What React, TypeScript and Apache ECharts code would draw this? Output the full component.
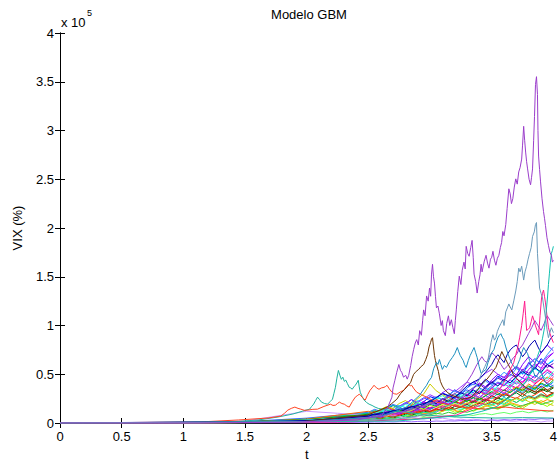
import React, { useEffect, useRef } from "react";
import * as echarts from "echarts";

// ---------- axis ticks ----------
const xTickValues = [0, 0.5, 1, 1.5, 2, 2.5, 3, 3.5, 4];
const yTickValues = [0, 0.5, 1, 1.5, 2, 2.5, 3, 3.5, 4];
const yExponent = "5"; // values are shown as x 10^5

// ---------- prominent paths: [t, VIX in units of 1e5] ----------
const purpleMain: number[][] = [
  [0, 0], [1.124, 0], [1.928, 0.01], [2.41, 0.031], [2.61, 0.081], [2.66, 0.17], [2.691, 0.265], [2.7, 0.36],
  [2.715, 0.438], [2.73, 0.52], [2.747, 0.6], [2.76, 0.54], [2.771, 0.519], [2.785, 0.47], [2.803, 0.489],
  [2.815, 0.45], [2.827, 0.489], [2.843, 0.59], [2.855, 0.68], [2.867, 0.753], [2.88, 0.82], [2.892, 0.855],
  [2.905, 0.8], [2.916, 0.947], [2.93, 0.9], [2.94, 1.05], [2.948, 1.16], [2.96, 1.1], [2.972, 1.303],
  [2.985, 1.25], [2.996, 1.384], [3.005, 1.3], [3.012, 1.527], [3.02, 1.628], [3.028, 1.5], [3.036, 1.435],
  [3.044, 1.3], [3.052, 1.181], [3.064, 1.2], [3.076, 1.12], [3.09, 1.0], [3.1, 1.05], [3.108, 0.947],
  [3.124, 0.896], [3.135, 1.02], [3.149, 1.099], [3.16, 1.0], [3.173, 1.059], [3.185, 0.98], [3.197, 0.916],
  [3.205, 1.05], [3.213, 1.16], [3.225, 1.35], [3.237, 1.506], [3.25, 1.42], [3.261, 1.567], [3.275, 1.65],
  [3.285, 1.58], [3.293, 1.812], [3.305, 1.74], [3.317, 1.71], [3.33, 1.8], [3.341, 1.873], [3.35, 1.7],
  [3.357, 1.527], [3.37, 1.45], [3.382, 1.333], [3.395, 1.45], [3.405, 1.52], [3.414, 1.628], [3.422, 1.55],
  [3.43, 1.6], [3.44, 1.66], [3.454, 1.72], [3.466, 1.64], [3.478, 1.588], [3.49, 1.68], [3.5, 1.7],
  [3.51, 1.761], [3.522, 1.67], [3.534, 1.618], [3.546, 1.69], [3.558, 1.72], [3.57, 1.8], [3.58, 1.85],
  [3.59, 1.964], [3.6, 1.92], [3.614, 2.036], [3.625, 2.2], [3.639, 2.402], [3.65, 2.35], [3.66, 2.25],
  [3.671, 2.3], [3.683, 2.42], [3.695, 2.504], [3.707, 2.45], [3.719, 2.575], [3.73, 2.62], [3.743, 2.707],
  [3.75, 2.85], [3.759, 3.043], [3.767, 2.9], [3.775, 2.779], [3.783, 2.68], [3.791, 2.606], [3.803, 2.5],
  [3.815, 2.443], [3.823, 2.52], [3.831, 2.606], [3.84, 2.9], [3.847, 3.145], [3.855, 3.471], [3.863, 3.552],
  [3.871, 3.369], [3.875, 3.0], [3.88, 2.738], [3.888, 2.6], [3.896, 2.473], [3.908, 2.3], [3.92, 2.168],
  [3.928, 2.1], [3.936, 2.025], [3.948, 1.9], [3.96, 1.822], [3.972, 1.75], [3.984, 1.72], [3.992, 1.65], [4, 1.669],
];
const steelBlue: number[][] = [
  [0, 0], [1.928, 0.01], [2.731, 0.041], [2.9, 0.07], [3.052, 0.112], [3.15, 0.18], [3.253, 0.265],
  [3.3, 0.31], [3.333, 0.346], [3.373, 0.387], [3.4, 0.45], [3.422, 0.519], [3.445, 0.58], [3.47, 0.651],
  [3.48, 0.72], [3.494, 0.824], [3.51, 0.906], [3.522, 0.85], [3.534, 0.875], [3.546, 0.94], [3.558, 0.977],
  [3.574, 1.02], [3.59, 1.059], [3.6, 1.0], [3.614, 1.14], [3.627, 1.18], [3.639, 1.221], [3.65, 1.19],
  [3.663, 1.16], [3.68, 1.26], [3.695, 1.354], [3.707, 1.45], [3.719, 1.588], [3.73, 1.55], [3.743, 1.608],
  [3.759, 1.466], [3.77, 1.55], [3.783, 1.608], [3.795, 1.68], [3.807, 1.74], [3.82, 1.8], [3.831, 1.913],
  [3.845, 1.96], [3.855, 2.036], [3.863, 2.056], [3.871, 1.74], [3.88, 1.55], [3.888, 1.384], [3.9, 1.33],
  [3.912, 1.282], [3.924, 1.18], [3.936, 1.079], [3.948, 0.96], [3.96, 0.875], [3.972, 0.93], [3.984, 0.977], [4, 0.926],
];
const cerulean: number[][] = [
  [0, 0], [1.928, 0.01], [2.57, 0.061], [2.7, 0.11], [2.811, 0.163], [2.86, 0.22], [2.916, 0.285],
  [2.945, 0.34], [2.972, 0.387], [2.99, 0.43], [3.012, 0.468], [3.03, 0.56], [3.052, 0.621], [3.064, 0.6],
  [3.076, 0.651], [3.088, 0.6], [3.1, 0.55], [3.116, 0.59], [3.133, 0.57], [3.157, 0.63], [3.181, 0.672],
  [3.2, 0.71], [3.221, 0.774], [3.233, 0.73], [3.245, 0.692], [3.269, 0.641], [3.28, 0.6], [3.293, 0.57],
  [3.31, 0.64], [3.325, 0.692], [3.34, 0.73], [3.357, 0.774], [3.37, 0.72], [3.382, 0.672], [3.398, 0.58],
  [3.414, 0.509], [3.434, 0.53], [3.454, 0.55], [3.47, 0.62], [3.486, 0.672], [3.5, 0.72], [3.518, 0.753],
  [3.534, 0.82], [3.55, 0.875], [3.562, 0.9], [3.574, 0.916], [3.586, 0.88], [3.598, 0.855], [3.614, 0.78],
  [3.631, 0.712], [3.647, 0.66], [3.663, 0.611], [3.68, 0.58], [3.695, 0.55], [3.71, 0.6], [3.727, 0.651],
  [3.743, 0.72], [3.759, 0.774], [3.775, 0.74], [3.791, 0.712], [3.807, 0.64], [3.823, 0.57], [3.84, 0.52],
  [3.855, 0.468], [3.875, 0.5], [3.896, 0.55], [3.916, 0.47], [3.936, 0.417], [3.956, 0.39], [3.976, 0.366], [4, 0.387],
];
const brownPath: number[][] = [
  [0, 0], [1.928, 0.01], [2.49, 0.081], [2.57, 0.12], [2.651, 0.163], [2.69, 0.2], [2.731, 0.244],
  [2.76, 0.3], [2.795, 0.346], [2.82, 0.38], [2.843, 0.417], [2.855, 0.46], [2.867, 0.499], [2.888, 0.53],
  [2.908, 0.55], [2.928, 0.58], [2.948, 0.6], [2.965, 0.65], [2.98, 0.702], [2.992, 0.78], [3.004, 0.824],
  [3.012, 0.86], [3.02, 0.875], [3.028, 0.78], [3.036, 0.692], [3.044, 0.64], [3.052, 0.6], [3.068, 0.529],
  [3.076, 0.47], [3.084, 0.427], [3.1, 0.38], [3.116, 0.346], [3.145, 0.31], [3.173, 0.285], [3.213, 0.27],
  [3.253, 0.244], [3.29, 0.25], [3.333, 0.265], [3.36, 0.3], [3.39, 0.346], [3.414, 0.39], [3.438, 0.427],
  [3.462, 0.45], [3.486, 0.489], [3.51, 0.53], [3.534, 0.57], [3.558, 0.65], [3.582, 0.733], [3.598, 0.69],
  [3.614, 0.651], [3.634, 0.6], [3.655, 0.55], [3.675, 0.5], [3.695, 0.468], [3.735, 0.41], [3.775, 0.366],
  [3.815, 0.34], [3.855, 0.316], [3.895, 0.33], [3.936, 0.346], [3.968, 0.32], [4, 0.305],
];
const tealEarly: number[][] = [
  [0, 0], [1.365, 0.01], [1.606, 0.031], [1.767, 0.061], [1.888, 0.092], [1.968, 0.122], [2.024, 0.142],
  [2.04, 0.17], [2.056, 0.193], [2.072, 0.23], [2.088, 0.265], [2.104, 0.24], [2.12, 0.214], [2.145, 0.2],
  [2.169, 0.193], [2.19, 0.22], [2.209, 0.244], [2.22, 0.3], [2.233, 0.366], [2.245, 0.46], [2.257, 0.539],
  [2.269, 0.49], [2.281, 0.448], [2.293, 0.47], [2.305, 0.427], [2.317, 0.44], [2.329, 0.407], [2.345, 0.366],
  [2.357, 0.36], [2.369, 0.346], [2.382, 0.37], [2.394, 0.387], [2.406, 0.41], [2.418, 0.438], [2.426, 0.37],
  [2.434, 0.316], [2.45, 0.27], [2.466, 0.234], [2.486, 0.21], [2.506, 0.193], [2.53, 0.18], [2.554, 0.163],
  [2.58, 0.15], [2.61, 0.142], [2.65, 0.13], [2.691, 0.122], [2.75, 0.118], [2.811, 0.112], [2.9, 0.095],
  [2.972, 0.081], [3.1, 0.07], [3.213, 0.061], [3.38, 0.055], [3.534, 0.051], [3.75, 0.055], [4, 0.051],
];
const orangeRed: number[][] = [
  [0, 0], [1.124, 0.01], [1.446, 0.031], [1.687, 0.051], [1.791, 0.071], [1.82, 0.1], [1.847, 0.132],
  [1.875, 0.15], [1.904, 0.163], [1.93, 0.15], [1.952, 0.142], [1.98, 0.13], [2.008, 0.132], [2.05, 0.14],
  [2.088, 0.142], [2.14, 0.17], [2.193, 0.193], [2.213, 0.18], [2.233, 0.183], [2.25, 0.2], [2.265, 0.214],
  [2.285, 0.2], [2.305, 0.193], [2.325, 0.175], [2.345, 0.163], [2.37, 0.22], [2.394, 0.265], [2.41, 0.28],
  [2.426, 0.295], [2.438, 0.28], [2.45, 0.265], [2.462, 0.25], [2.474, 0.234], [2.494, 0.29], [2.514, 0.336],
  [2.53, 0.36], [2.546, 0.387], [2.566, 0.36], [2.586, 0.346], [2.606, 0.36], [2.627, 0.366], [2.64, 0.375],
  [2.651, 0.387], [2.67, 0.35], [2.691, 0.316], [2.71, 0.3], [2.731, 0.295], [2.76, 0.32], [2.787, 0.336],
  [2.807, 0.37], [2.827, 0.397], [2.84, 0.38], [2.851, 0.387], [2.87, 0.35], [2.892, 0.316], [2.93, 0.29],
  [2.972, 0.265], [3.01, 0.24], [3.052, 0.214], [3.11, 0.2], [3.173, 0.183], [3.23, 0.17], [3.293, 0.163],
  [3.37, 0.15], [3.454, 0.142], [3.53, 0.155], [3.614, 0.163], [3.7, 0.15], [3.775, 0.142], [3.89, 0.13], [4, 0.122],
];
const hotPink: number[][] = [
  [0, 0], [2.329, 0.01], [2.892, 0.041], [3.213, 0.081], [3.373, 0.163], [3.43, 0.2], [3.494, 0.265],
  [3.534, 0.31], [3.574, 0.366], [3.6, 0.42], [3.631, 0.489], [3.655, 0.56], [3.679, 0.621], [3.695, 0.7],
  [3.711, 0.774], [3.727, 0.88], [3.743, 1.0], [3.755, 1.12], [3.767, 1.25], [3.775, 1.1], [3.783, 0.95],
  [3.795, 0.96], [3.807, 0.977], [3.82, 1.04], [3.831, 1.099], [3.843, 1.05], [3.855, 0.997], [3.868, 0.95],
  [3.88, 0.906], [3.892, 1.1], [3.904, 1.282], [3.912, 1.33], [3.92, 1.364], [3.928, 1.3], [3.936, 1.232],
  [3.948, 1.1], [3.96, 0.977], [3.972, 0.92], [3.984, 0.875], [4, 0.824],
];
const tealRight: number[][] = [
  [0, 0], [2.731, 0.02], [3.0, 0.05], [3.293, 0.081], [3.42, 0.12], [3.534, 0.163], [3.62, 0.24],
  [3.695, 0.316], [3.735, 0.37], [3.775, 0.417], [3.81, 0.5], [3.839, 0.57], [3.87, 0.68], [3.896, 0.774],
  [3.912, 0.87], [3.928, 0.977], [3.94, 1.12], [3.952, 1.282], [3.96, 1.42], [3.968, 1.537], [3.976, 1.65],
  [3.984, 1.74], [3.992, 1.77], [4, 1.812],
];
const purpleSecond: number[][] = [
  [0, 0], [2.0, 0.01], [2.5, 0.05], [2.8, 0.12], [3.0, 0.2], [3.1, 0.24], [3.2, 0.3], [3.25, 0.34],
  [3.3, 0.42], [3.34, 0.5], [3.38, 0.6], [3.42, 0.68], [3.44, 0.64], [3.46, 0.62], [3.48, 0.68], [3.5, 0.72],
  [3.52, 0.7], [3.55, 0.65], [3.575, 0.6], [3.6, 0.55], [3.625, 0.58], [3.65, 0.62], [3.675, 0.67], [3.7, 0.7],
  [3.725, 0.76], [3.75, 0.8], [3.775, 0.86], [3.8, 0.92], [3.825, 0.98], [3.85, 1.05], [3.875, 1.0],
  [3.9, 0.95], [3.925, 1.02], [3.95, 1.1], [3.975, 1.05], [4, 1.0],
];
const darkBlue: number[][] = [
  [0, 0], [2, 0.02], [2.5, 0.08], [2.65, 0.11], [2.8, 0.15], [2.9, 0.18], [3.0, 0.22], [3.05, 0.26],
  [3.1, 0.3], [3.15, 0.28], [3.2, 0.26], [3.25, 0.32], [3.3, 0.38], [3.35, 0.42], [3.4, 0.45], [3.45, 0.52],
  [3.5, 0.6], [3.525, 0.66], [3.55, 0.7], [3.575, 0.66], [3.6, 0.62], [3.625, 0.7], [3.65, 0.75], [3.675, 0.78],
  [3.7, 0.8], [3.725, 0.74], [3.75, 0.68], [3.775, 0.72], [3.8, 0.78], [3.825, 0.82], [3.85, 0.85],
  [3.875, 0.78], [3.9, 0.72], [3.925, 0.76], [3.95, 0.8], [3.975, 0.86], [4, 0.9],
];

// ---------- the dense bundle of low paths, on a shared time grid ----------
const bulkT = [0, 1, 1.5, 2, 2.25, 2.5, 2.55, 2.6, 2.65, 2.7, 2.75, 2.8, 2.85, 2.9, 2.95, 3, 3.05, 3.1,
  3.15, 3.2, 3.25, 3.3, 3.35, 3.4, 3.45, 3.5, 3.55, 3.6, 3.65, 3.7, 3.75, 3.8, 3.85, 3.9, 3.95, 4];
const bulkColors = ["#0000ff", "#8000ff", "#00cc00", "#ff00ff", "#99ff00", "#ff3300", "#00ffff",
  "#cccc00", "#006600", "#ff66cc", "#3366ff", "#9933ff", "#00cc99", "#ff9900", "#6600cc", "#33cc33",
  "#cc00cc", "#0099ff", "#66ff66", "#993300", "#ff0066", "#00ff99", "#cc99ff", "#9966ff",
  "#ff6600", "#3399ff", "#00b000", "#ff33cc", "#6666ff", "#cc3300", "#33ffcc", "#9900ff", "#ccff33", "#000099"];
const bulkValues: number[][] = [
  [0, 0.002, 0.01, 0.03, 0.06, 0.10, 0.12, 0.09, 0.14, 0.18, 0.15, 0.20, 0.24, 0.19, 0.22, 0.27, 0.25, 0.31, 0.28, 0.34, 0.30, 0.36, 0.42, 0.38, 0.45, 0.40, 0.48, 0.44, 0.52, 0.58, 0.50, 0.62, 0.55, 0.66, 0.60, 0.64],
  [0, 0.001, 0.008, 0.02, 0.05, 0.08, 0.07, 0.11, 0.09, 0.13, 0.16, 0.12, 0.15, 0.19, 0.22, 0.18, 0.24, 0.21, 0.27, 0.25, 0.32, 0.29, 0.35, 0.41, 0.37, 0.44, 0.50, 0.46, 0.55, 0.49, 0.60, 0.68, 0.62, 0.72, 0.80, 0.74],
  [0, 0.002, 0.01, 0.025, 0.04, 0.06, 0.05, 0.07, 0.09, 0.08, 0.11, 0.10, 0.13, 0.12, 0.15, 0.14, 0.17, 0.16, 0.19, 0.18, 0.21, 0.24, 0.22, 0.26, 0.23, 0.28, 0.25, 0.30, 0.27, 0.32, 0.35, 0.31, 0.37, 0.34, 0.39, 0.36],
  [0, 0.001, 0.006, 0.02, 0.04, 0.07, 0.09, 0.08, 0.10, 0.12, 0.11, 0.14, 0.13, 0.16, 0.18, 0.15, 0.19, 0.22, 0.20, 0.25, 0.23, 0.27, 0.30, 0.26, 0.32, 0.36, 0.33, 0.40, 0.37, 0.45, 0.42, 0.50, 0.46, 0.55, 0.60, 0.57],
  [0, 0.001, 0.005, 0.015, 0.03, 0.05, 0.04, 0.065, 0.05, 0.07, 0.09, 0.075, 0.07, 0.1, 0.085, 0.11, 0.09, 0.12, 0.14, 0.11, 0.13, 0.16, 0.12, 0.15, 0.18, 0.16, 0.14, 0.17, 0.2, 0.18, 0.15, 0.19, 0.22, 0.2, 0.17, 0.21],
  [0, 0.003, 0.012, 0.04, 0.07, 0.09, 0.12, 0.10, 0.08, 0.11, 0.14, 0.12, 0.16, 0.13, 0.10, 0.12, 0.15, 0.18, 0.14, 0.17, 0.21, 0.19, 0.16, 0.20, 0.24, 0.22, 0.19, 0.23, 0.27, 0.25, 0.30, 0.26, 0.29, 0.33, 0.28, 0.31],
  [0, 0.002, 0.009, 0.03, 0.05, 0.08, 0.10, 0.13, 0.11, 0.15, 0.18, 0.16, 0.20, 0.23, 0.19, 0.22, 0.26, 0.24, 0.21, 0.25, 0.29, 0.27, 0.33, 0.30, 0.36, 0.32, 0.38, 0.43, 0.39, 0.47, 0.52, 0.48, 0.56, 0.51, 0.60, 0.65],
  [0, 0.002, 0.01, 0.03, 0.06, 0.09, 0.11, 0.14, 0.17, 0.15, 0.20, 0.23, 0.19, 0.25, 0.30, 0.40, 0.33, 0.29, 0.26, 0.30, 0.27, 0.24, 0.28, 0.25, 0.22, 0.26, 0.23, 0.20, 0.24, 0.21, 0.25, 0.22, 0.19, 0.23, 0.20, 0.18],
  [0, 0.001, 0.004, 0.012, 0.02, 0.04, 0.05, 0.04, 0.06, 0.05, 0.07, 0.09, 0.08, 0.10, 0.12, 0.11, 0.13, 0.15, 0.14, 0.17, 0.16, 0.19, 0.22, 0.20, 0.24, 0.21, 0.26, 0.23, 0.28, 0.31, 0.27, 0.33, 0.30, 0.35, 0.32, 0.36],
  [0, 0.002, 0.007, 0.02, 0.03, 0.05, 0.06, 0.08, 0.07, 0.09, 0.11, 0.10, 0.12, 0.14, 0.13, 0.16, 0.18, 0.17, 0.20, 0.22, 0.19, 0.23, 0.26, 0.24, 0.28, 0.31, 0.29, 0.34, 0.38, 0.35, 0.41, 0.45, 0.40, 0.47, 0.43, 0.50],
  [0, 0.003, 0.015, 0.05, 0.08, 0.11, 0.14, 0.12, 0.16, 0.19, 0.17, 0.21, 0.18, 0.22, 0.26, 0.23, 0.20, 0.24, 0.28, 0.25, 0.30, 0.34, 0.31, 0.36, 0.33, 0.38, 0.42, 0.39, 0.44, 0.40, 0.46, 0.43, 0.49, 0.45, 0.52, 0.48],
  [0, 0.002, 0.01, 0.03, 0.05, 0.07, 0.09, 0.12, 0.15, 0.13, 0.17, 0.20, 0.24, 0.21, 0.25, 0.29, 0.26, 0.31, 0.35, 0.32, 0.37, 0.42, 0.39, 0.46, 0.51, 0.55, 0.50, 0.47, 0.52, 0.58, 0.54, 0.61, 0.66, 0.60, 0.68, 0.72],
  [0, 0.002, 0.012, 0.04, 0.07, 0.10, 0.13, 0.11, 0.15, 0.18, 0.16, 0.14, 0.17, 0.20, 0.18, 0.21, 0.19, 0.16, 0.18, 0.22, 0.20, 0.17, 0.21, 0.24, 0.22, 0.19, 0.23, 0.26, 0.24, 0.21, 0.25, 0.28, 0.26, 0.30, 0.27, 0.29],
  [0, 0.001, 0.005, 0.015, 0.03, 0.04, 0.06, 0.05, 0.07, 0.09, 0.08, 0.10, 0.12, 0.11, 0.09, 0.11, 0.13, 0.12, 0.15, 0.13, 0.11, 0.14, 0.16, 0.14, 0.17, 0.19, 0.16, 0.18, 0.21, 0.19, 0.17, 0.20, 0.23, 0.21, 0.24, 0.22],
  [0, 0.002, 0.008, 0.025, 0.05, 0.07, 0.09, 0.08, 0.11, 0.13, 0.12, 0.15, 0.18, 0.16, 0.19, 0.22, 0.20, 0.24, 0.27, 0.30, 0.26, 0.32, 0.36, 0.40, 0.35, 0.42, 0.46, 0.43, 0.50, 0.47, 0.55, 0.51, 0.58, 0.63, 0.57, 0.61],
  [0, 0.001, 0.004, 0.01, 0.02, 0.03, 0.045, 0.04, 0.05, 0.04, 0.06, 0.07, 0.065, 0.08, 0.07, 0.085, 0.1, 0.09, 0.11, 0.095, 0.12, 0.11, 0.13, 0.15, 0.14, 0.16, 0.15, 0.17, 0.19, 0.16, 0.18, 0.2, 0.22, 0.19, 0.21, 0.23],
  [0, 0.002, 0.009, 0.03, 0.06, 0.08, 0.1, 0.09, 0.12, 0.14, 0.13, 0.16, 0.14, 0.18, 0.21, 0.19, 0.23, 0.2, 0.24, 0.27, 0.25, 0.29, 0.26, 0.31, 0.34, 0.3, 0.36, 0.33, 0.39, 0.36, 0.42, 0.47, 0.43, 0.49, 0.54, 0.5],
  [0, 0.002, 0.01, 0.03, 0.05, 0.06, 0.08, 0.07, 0.09, 0.11, 0.1, 0.12, 0.15, 0.13, 0.16, 0.14, 0.17, 0.2, 0.18, 0.21, 0.19, 0.23, 0.26, 0.24, 0.28, 0.25, 0.3, 0.27, 0.32, 0.35, 0.31, 0.37, 0.34, 0.4, 0.37, 0.42],
  [0, 0.001, 0.003, 0.008, 0.015, 0.025, 0.032, 0.027, 0.036, 0.042, 0.035, 0.047, 0.052, 0.044, 0.058, 0.063, 0.055, 0.068, 0.074, 0.064, 0.079, 0.086, 0.077, 0.091, 0.097, 0.085, 0.099, 0.108, 0.094, 0.112, 0.12, 0.105, 0.118, 0.127, 0.113, 0.13],
  [0, 0.002, 0.01, 0.03, 0.05, 0.07, 0.06, 0.08, 0.1, 0.09, 0.11, 0.13, 0.12, 0.14, 0.17, 0.15, 0.18, 0.16, 0.19, 0.22, 0.2, 0.24, 0.21, 0.26, 0.23, 0.28, 0.25, 0.3, 0.27, 0.33, 0.3, 0.35, 0.32, 0.38, 0.34, 0.37],
  [0, 0.001, 0.006, 0.018, 0.03, 0.05, 0.07, 0.06, 0.08, 0.07, 0.09, 0.11, 0.1, 0.12, 0.14, 0.12, 0.15, 0.13, 0.16, 0.19, 0.17, 0.2, 0.23, 0.21, 0.25, 0.22, 0.27, 0.31, 0.28, 0.33, 0.37, 0.34, 0.4, 0.45, 0.41, 0.47],
  [0, 0.001, 0.005, 0.012, 0.025, 0.04, 0.05, 0.06, 0.05, 0.07, 0.06, 0.08, 0.1, 0.09, 0.11, 0.1, 0.12, 0.14, 0.13, 0.15, 0.14, 0.16, 0.18, 0.17, 0.2, 0.18, 0.21, 0.19, 0.23, 0.25, 0.22, 0.26, 0.24, 0.28, 0.26, 0.3],
  [0, 0.003, 0.02, 0.12, 0.1, 0.08, 0.09, 0.07, 0.06, 0.08, 0.07, 0.05, 0.06, 0.05, 0.04, 0.05, 0.04, 0.05, 0.04, 0.03, 0.04, 0.03, 0.04, 0.03, 0.02, 0.03, 0.02, 0.03, 0.02, 0.02, 0.03, 0.02, 0.02, 0.01, 0.02, 0.02],
  [0, 0, 0.001, 0.003, 0.005, 0.008, 0.01, 0.009, 0.012, 0.01, 0.013, 0.015, 0.012, 0.016, 0.018, 0.015, 0.02, 0.018, 0.022, 0.02, 0.025, 0.022, 0.027, 0.03, 0.026, 0.032, 0.028, 0.035, 0.03, 0.038, 0.034, 0.04, 0.036, 0.044, 0.04, 0.046],
  [0, 0.002, 0.01, 0.04, 0.08, 0.12, 0.1, 0.13, 0.16, 0.14, 0.12, 0.15, 0.18, 0.21, 0.17, 0.2, 0.24, 0.22, 0.26, 0.23, 0.2, 0.25, 0.28, 0.32, 0.29, 0.35, 0.31, 0.28, 0.33, 0.37, 0.34, 0.4, 0.36, 0.42, 0.47, 0.44],
  [0, 0.001, 0.006, 0.02, 0.04, 0.06, 0.08, 0.1, 0.09, 0.12, 0.15, 0.13, 0.17, 0.2, 0.18, 0.23, 0.27, 0.24, 0.29, 0.33, 0.3, 0.36, 0.4, 0.37, 0.43, 0.39, 0.46, 0.52, 0.48, 0.56, 0.51, 0.59, 0.66, 0.61, 0.7, 0.78],
  [0, 0.002, 0.012, 0.035, 0.06, 0.09, 0.08, 0.11, 0.1, 0.13, 0.12, 0.15, 0.14, 0.17, 0.15, 0.19, 0.17, 0.2, 0.23, 0.21, 0.25, 0.22, 0.26, 0.24, 0.28, 0.32, 0.29, 0.34, 0.31, 0.36, 0.33, 0.38, 0.35, 0.41, 0.38, 0.44],
  [0, 0.001, 0.007, 0.02, 0.04, 0.06, 0.05, 0.07, 0.09, 0.08, 0.1, 0.12, 0.11, 0.14, 0.12, 0.15, 0.18, 0.16, 0.2, 0.17, 0.22, 0.26, 0.23, 0.28, 0.25, 0.3, 0.35, 0.31, 0.37, 0.42, 0.38, 0.45, 0.41, 0.49, 0.55, 0.51],
  [0, 0.002, 0.009, 0.03, 0.05, 0.07, 0.09, 0.08, 0.1, 0.12, 0.15, 0.13, 0.16, 0.14, 0.17, 0.2, 0.18, 0.22, 0.19, 0.23, 0.27, 0.24, 0.29, 0.26, 0.31, 0.28, 0.33, 0.3, 0.35, 0.32, 0.38, 0.34, 0.39, 0.36, 0.41, 0.38],
  [0, 0.001, 0.004, 0.015, 0.03, 0.05, 0.06, 0.05, 0.07, 0.06, 0.08, 0.1, 0.09, 0.11, 0.13, 0.12, 0.14, 0.13, 0.16, 0.14, 0.17, 0.15, 0.18, 0.21, 0.19, 0.22, 0.2, 0.24, 0.22, 0.26, 0.23, 0.27, 0.25, 0.29, 0.27, 0.31],
  [0, 0.002, 0.01, 0.03, 0.05, 0.08, 0.1, 0.12, 0.14, 0.12, 0.16, 0.19, 0.17, 0.21, 0.18, 0.22, 0.25, 0.28, 0.24, 0.3, 0.27, 0.32, 0.29, 0.35, 0.31, 0.37, 0.34, 0.4, 0.36, 0.43, 0.39, 0.46, 0.42, 0.49, 0.45, 0.53],
  [0, 0.001, 0.005, 0.018, 0.035, 0.05, 0.07, 0.06, 0.08, 0.1, 0.09, 0.12, 0.11, 0.14, 0.16, 0.15, 0.18, 0.21, 0.19, 0.23, 0.26, 0.24, 0.28, 0.33, 0.3, 0.36, 0.41, 0.38, 0.45, 0.5, 0.46, 0.55, 0.61, 0.56, 0.66, 0.72],
  [0, 0.001, 0.005, 0.015, 0.03, 0.05, 0.06, 0.08, 0.07, 0.1, 0.12, 0.11, 0.13, 0.16, 0.14, 0.18, 0.16, 0.19, 0.17, 0.2, 0.18, 0.21, 0.19, 0.22, 0.2, 0.23, 0.21, 0.24, 0.22, 0.25, 0.23, 0.26, 0.24, 0.27, 0.25, 0.28],
  [0, 0.002, 0.008, 0.025, 0.045, 0.07, 0.09, 0.08, 0.1, 0.13, 0.11, 0.14, 0.17, 0.15, 0.19, 0.23, 0.2, 0.25, 0.22, 0.27, 0.31, 0.28, 0.34, 0.3, 0.37, 0.42, 0.38, 0.45, 0.41, 0.48, 0.53, 0.49, 0.57, 0.52, 0.6, 0.56],
];

const prominent: { name: string; color: string; data: number[][] }[] = [
  { name: "tealEarly", color: "#1fb39e", data: tealEarly },
  { name: "orangeRed", color: "#ff4422", data: orangeRed },
  { name: "darkBlue", color: "#0000b0", data: darkBlue },
  { name: "purpleSecond", color: "#9a3fd0", data: purpleSecond },
  { name: "brown", color: "#6b3300", data: brownPath },
  { name: "cerulean", color: "#1b8fbf", data: cerulean },
  { name: "hotPink", color: "#ff1a8c", data: hotPink },
  { name: "tealRight", color: "#10c0b0", data: tealRight },
  { name: "steelBlue", color: "#6b9bbb", data: steelBlue },
  { name: "purpleMain", color: "#9b3ecb", data: purpleMain },
];

const FONT = "Liberation Sans, Arial, Helvetica, sans-serif";
const W = 560;
const H = 466;

export default function App() {
  const ref = useRef<HTMLDivElement>(null);
  useEffect(() => {
    if (!ref.current) return;
    const chart = echarts.init(ref.current, null, { renderer: "svg", width: W, height: H });
    const series: any[] = [];
    bulkValues.forEach((vals, i) => {
      const c = bulkColors[i % bulkColors.length];
      series.push({
        type: "line",
        name: "b" + i,
        data: vals.map((v, k) => [bulkT[k], v]),
        showSymbol: false,
        lineStyle: { width: 1, color: c },
        itemStyle: { color: c },
        silent: true,
      });
    });
    prominent.forEach((p) => {
      series.push({
        type: "line",
        name: p.name,
        data: p.data,
        showSymbol: false,
        lineStyle: { width: 1, color: p.color },
        itemStyle: { color: p.color },
        silent: true,
      });
    });
    const axisCommon = {
      axisLine: { show: true, lineStyle: { color: "#000", width: 1 } },
      axisTick: { show: true, inside: true, length: 5, lineStyle: { color: "#000" } },
      splitLine: { show: false },
    };
    chart.setOption({
      animation: false,
      backgroundColor: "#ffffff",
      grid: { left: 60, top: 33, right: 2, bottom: 40, containLabel: false },
      xAxis: [
        {
          type: "value", min: 0, max: 4, interval: 0.5, position: "bottom",
          ...axisCommon,
          axisLabel: { color: "#000", fontSize: 13, fontFamily: FONT, margin: 7, showMaxLabel: true,
            formatter: (v: number) => (xTickValues.includes(v) ? String(v) : "") },
          name: "t", nameLocation: "middle", nameGap: 25,
          nameTextStyle: { color: "#000", fontSize: 13, fontFamily: FONT },
        },
        {
          type: "value", min: 0, max: 4, interval: 0.5, position: "top",
          ...axisCommon, axisLabel: { show: false },
        },
      ],
      yAxis: [
        {
          type: "value", min: 0, max: 4, interval: 0.5, position: "left",
          ...axisCommon,
          axisLabel: { color: "#000", fontSize: 13, fontFamily: FONT, margin: 6,
            formatter: (v: number) => (yTickValues.includes(v) ? String(v) : "") },
          name: "VIX (%)", nameLocation: "middle", nameGap: 36, nameRotate: 90,
          nameTextStyle: { color: "#000", fontSize: 13, fontFamily: FONT },
        },
        {
          type: "value", min: 0, max: 4, interval: 0.5, position: "right",
          ...axisCommon, axisLabel: { show: false },
        },
      ],
      graphic: [
        {
          type: "text", x: 309, y: 14,
          style: { text: "Modelo GBM", fill: "#000", font: `13px ${FONT}`, textAlign: "center", textVerticalAlign: "middle" },
        },
        {
          type: "text", x: 61, y: 22,
          style: { text: "x 10", fill: "#000", font: `13px ${FONT}`, textAlign: "left", textVerticalAlign: "middle" },
        },
        {
          type: "text", x: 87, y: 13,
          style: { text: yExponent, fill: "#000", font: `9px ${FONT}`, textAlign: "left", textVerticalAlign: "middle" },
        },
      ],
      series,
    });
    return () => chart.dispose();
  }, []);
  return (
    <div
      ref={ref}
      style={{ position: "fixed", left: 0, top: 0, width: W, height: H, background: "#fff" }}
    />
  );
}
